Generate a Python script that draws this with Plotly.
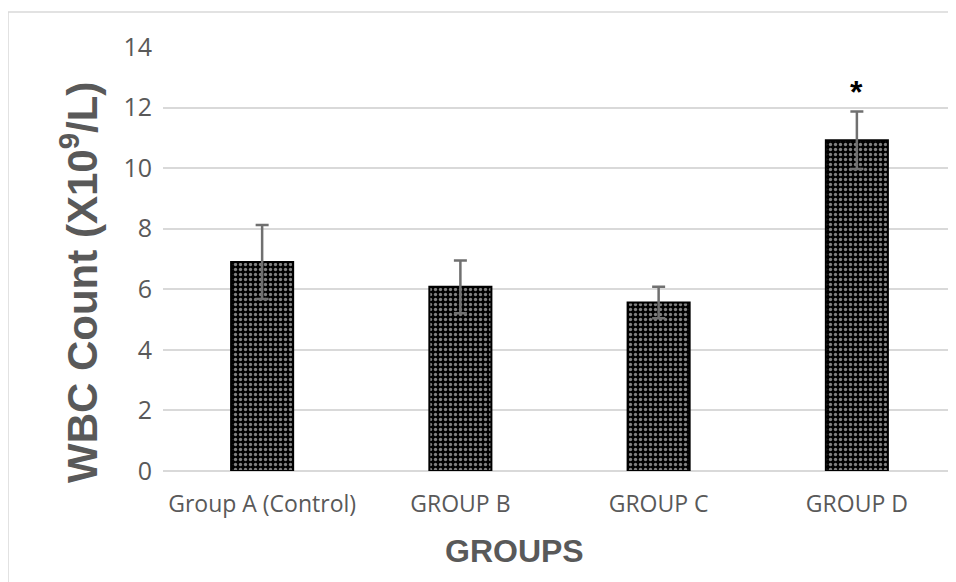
import plotly.graph_objects as go

groups = ["Group A (Control)", "GROUP B", "GROUP C", "GROUP D"]
wbc_mean = [6.9, 6.08, 5.56, 10.92]
wbc_err = [1.22, 0.87, 0.52, 0.95]
y_ticks = [0, 2, 4, 6, 8, 10, 12, 14]
significance = ["", "", "", "*"]

# page body has an 8px margin, so the figure is offset by 8px
OFF = 8
W, H = 956 - OFF, 582 - OFF
ML, MR, MT, MB = 163 - OFF, 0, 47 - OFF, 111
PW, PH = W - ML - MR, H - MT - MB


def px_x(px):
    return (px - OFF - ML) / PW


def px_y(py):
    return (H - MB - (py - OFF)) / PH


fig = go.Figure()
fig.add_trace(go.Bar(
    x=groups,
    y=wbc_mean,
    marker=dict(
        color="black",
        line=dict(color="black", width=2),
        pattern=dict(shape=".", fgcolor="white", bgcolor="black", size=5, solidity=0.35),
    ),
    error_y=dict(type="data", array=wbc_err, visible=True, color="#707070", thickness=2.5, width=6.5),
    showlegend=False,
))

for g, m, e, s in zip(groups, wbc_mean, wbc_err, significance):
    if s:
        fig.add_annotation(x=g, y=m + e, text="<b>" + s + "</b>", showarrow=False,
                           yanchor="bottom", yshift=0,
                           font=dict(family="Liberation Sans", size=32, color="black"))

fig.add_annotation(x=px_x(79), y=px_y(283), xref="paper", yref="paper",
                   xanchor="center", yanchor="middle",
                   text="<b>WBC Count (X10<sup>9</sup>/L)</b>", textangle=-90, showarrow=False,
                   font=dict(family="Liberation Sans", size=42, color="#595959"))
fig.add_annotation(x=px_x(514), y=px_y(551), xref="paper", yref="paper",
                   xanchor="center", yanchor="middle",
                   text="<b>GROUPS</b>", showarrow=False,
                   font=dict(family="Liberation Sans", size=32, color="#595959"))

fig.add_shape(type="rect", xref="paper", yref="paper",
              x0=px_x(8), x1=px_x(1000), y0=px_y(640), y1=px_y(12),
              line=dict(color="#d9d9d9", width=1.5), fillcolor="rgba(0,0,0,0)", layer="below")

fig.update_layout(
    width=W, height=H, autosize=False,
    margin=dict(l=ML, r=MR, t=MT, b=MB),
    paper_bgcolor="white", plot_bgcolor="white",
    bargap=0.687,
    xaxis=dict(showline=False, showgrid=False, ticks="", ticklabelstandoff=17,
               tickfont=dict(family="Open Sans", size=23, color="#595959")),
    yaxis=dict(range=[0, 14], tickvals=y_ticks, showgrid=True, gridcolor="#d9d9d9", gridwidth=1.5,
               zeroline=True, zerolinecolor="#d9d9d9", zerolinewidth=1.5, showline=False,
               ticks="", ticklabelstandoff=10,
               tickfont=dict(family="Open Sans", size=25, color="#595959")),
)

fig.write_html("out.html")
